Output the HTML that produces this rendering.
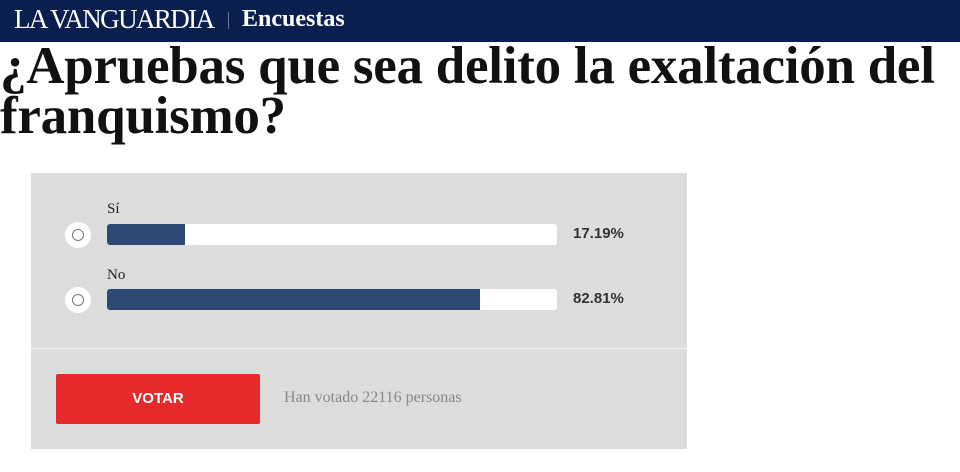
<!DOCTYPE html>
<html><head><meta charset="utf-8"><style>
body{margin:0;width:960px;height:472px;background:#fff;overflow:hidden;position:relative;font-family:"Liberation Serif",serif}
.hdr{position:absolute;left:0;top:0;width:960px;height:42px;background:#0b1f4f}
.logo{position:absolute;left:14px;top:4px;color:#fff;font-size:27px;letter-spacing:-1.6px;font-family:"Liberation Serif",serif}
.sep{position:absolute;left:228px;top:12px;width:1px;height:17px;background:#6a7a9a}
.enc{position:absolute;left:242px;top:6px;color:#fff;font-size:24px;font-weight:bold}
h1{position:absolute;left:0;top:41px;margin:0;font-size:53px;line-height:50px;font-weight:bold;color:#111;letter-spacing:-0.25px;width:960px}
.panel{position:absolute;left:31px;top:173px;width:656px;height:276px;background:#dcdcdc}
.div{position:absolute;left:0;top:175px;width:656px;height:1px;background:#f4f4f4}
.lbl{position:absolute;left:76px;font-size:15px;color:#222}
.radio{position:absolute;left:34px;width:26px;height:26px;border-radius:50%;background:#fff}
.radio::after{content:"";position:absolute;left:7px;top:7px;width:12px;height:12px;border-radius:50%;border:1px solid #777;box-sizing:border-box}
.bar{position:absolute;left:76px;width:450px;height:21px;background:#fff;border-radius:3px;overflow:hidden}
.fill{height:100%;background:#2c4a73}
.pct{position:absolute;left:542px;font-family:"Liberation Sans",sans-serif;font-weight:bold;font-size:15px;color:#333}
.btn{position:absolute;left:25px;top:201px;width:204px;height:50px;background:#e42a2a;border-radius:2px;color:#fff;font-family:"Liberation Sans",sans-serif;font-weight:bold;font-size:15px;text-align:center;line-height:49px}
.votes{position:absolute;left:253px;top:216px;font-size:16px;color:#888}
</style></head><body>
<div class="hdr"><div class="logo">LA VANGUARDIA</div><div class="sep"></div><div class="enc">Encuestas</div></div>
<h1>¿Apruebas que sea delito la exaltación del franquismo?</h1>
<div class="panel">
<div class="lbl" style="top:28px">Sí</div>
<div class="radio" style="top:49px"></div>
<div class="bar" style="top:51px"><div class="fill" style="width:78px"></div></div>
<div class="pct" style="top:52px">17.19%</div>
<div class="lbl" style="top:94px">No</div>
<div class="radio" style="top:114px"></div>
<div class="bar" style="top:116px"><div class="fill" style="width:373px"></div></div>
<div class="pct" style="top:117px">82.81%</div>
<div class="div"></div>
<div class="btn">VOTAR</div>
<div class="votes">Han votado 22116 personas</div>
</div>
</body></html>
